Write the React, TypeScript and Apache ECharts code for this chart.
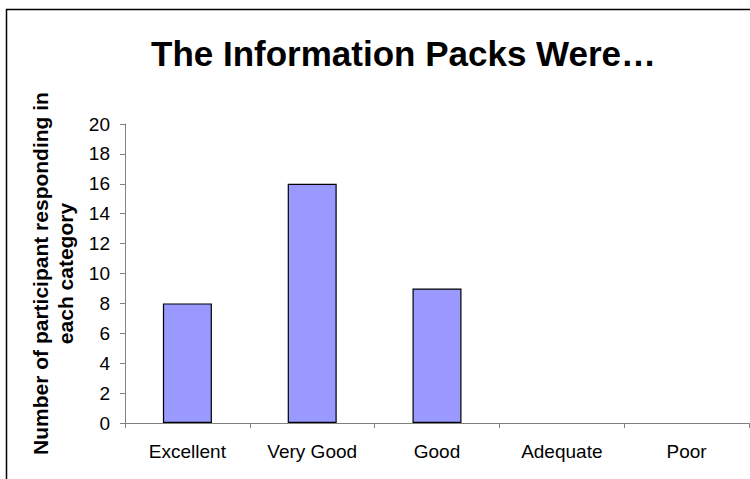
import React, { useEffect, useRef } from "react";
import * as echarts from "echarts";

const categories = ["Excellent", "Very Good", "Good", "Adequate", "Poor"];
const values = [8, 16, 9, 0, 0];
const titleText = "The Information Packs Were…";
const yAxisName = "Number of participant responding in\neach category";

const FONT = "Liberation Sans, Arial, sans-serif";

export default function App() {
  const ref = useRef<HTMLDivElement>(null);
  useEffect(() => {
    const chart = echarts.init(ref.current!, null, { renderer: "svg" });
    chart.setOption({
      animation: false,
      backgroundColor: "#fff",
      title: {
        text: titleText,
        left: 146,
        top: 31,
        textStyle: { fontFamily: FONT, fontSize: 35, fontWeight: "bold", color: "#000" },
      },
      graphic: [
        {
          type: "rect",
          shape: { x: 6.5, y: 9.5, width: 800, height: 600 },
          style: { fill: "none", stroke: "#000", lineWidth: 1.5 },
          silent: true,
        },
      ],
      grid: { left: 125, right: 1, top: 124, bottom: 56, containLabel: false },
      xAxis: {
        type: "category",
        data: categories,
        boundaryGap: true,
        axisLine: { lineStyle: { color: "#808080", width: 1 } },
        axisTick: { show: true, length: 5, lineStyle: { color: "#808080" } },
        axisLabel: { color: "#000", fontSize: 19, fontFamily: FONT, margin: 19 },
      },
      yAxis: {
        type: "value",
        min: 0,
        max: 20,
        interval: 2,
        name: yAxisName,
        nameLocation: "middle",
        nameRotate: 90,
        nameGap: 46,
        nameTextStyle: {
          color: "#000",
          fontSize: 21,
          fontWeight: "bold",
          fontFamily: FONT,
          lineHeight: 25,
          align: "center",
        },
        splitLine: { show: false },
        axisLine: { show: true, lineStyle: { color: "#808080", width: 1 } },
        axisTick: { show: true, length: 5, lineStyle: { color: "#808080" } },
        axisLabel: { color: "#000", fontSize: 19, fontFamily: FONT, margin: 15 },
      },
      series: [
        {
          type: "bar",
          data: values.map((v) => ({
            value: v,
            itemStyle: v === 0 ? { borderWidth: 0 } : undefined,
          })),
          barWidth: 49,
          itemStyle: { color: "#9999FF", borderColor: "#000", borderWidth: 1.2 },
        },
      ],
    });
    return () => chart.dispose();
  }, []);
  return <div ref={ref} style={{ width: 750, height: 479, position: "absolute", left: 0, top: 0 }} />;
}
